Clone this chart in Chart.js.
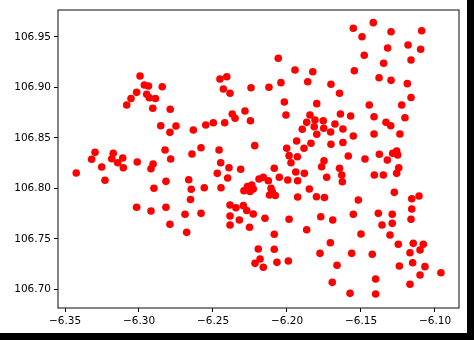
<!DOCTYPE html>
<html>
<head>
<meta charset="utf-8">
<script src="https://cdn.jsdelivr.net/npm/chart.js@4.4.1/dist/chart.umd.min.js"></script>
<style>
  html, body { margin: 0; padding: 0; background: #fff; }
  canvas { display: block; }
</style>
</head>
<body>
<canvas id="scatter" width="474" height="340"></canvas>
<script>
"use strict";

// x positions (latitude)
const latitude = [
    -6.2993, -6.2964, -6.2936, -6.3016, -6.2948, -6.3054, -6.2930, -6.2889, -6.3083, -6.2843,
    -6.2453, -6.2407, -6.2430, -6.2385, -6.2243, -6.2059, -6.1946, -6.1826, -6.2122, -6.2041,
    -6.1860, -6.1703, -6.1645, -6.2018, -6.1799, -6.1417, -6.1552, -6.1493, -6.1297, -6.1090,
    -6.1320, -6.1182, -6.1097, -6.1478, -6.1347, -6.1162, -6.1545, -6.1378, -6.1297, -6.1187,
    -6.1162, -6.1444, -6.1225, -6.2907, -6.3297, -6.3320, -6.3174, -6.3184, -6.3110, -6.3144,
    -6.3252, -6.3106, -6.3012, -6.3424, -6.3230, -6.2905, -6.2919, -6.2899, -6.2789, -6.2853,
    -6.2750, -6.2791, -6.2633, -6.2549, -6.2498, -6.2421, -6.2370, -6.2351, -6.2284, -6.2247,
    -6.2824, -6.2786, -6.2642, -6.2581, -6.2459, -6.2448, -6.2392, -6.2471, -6.2313, -6.2401,
    -6.2818, -6.2664, -6.2647, -6.2559, -6.2446, -6.2652, -6.2291, -6.2267, -6.2007, -6.1845,
    -6.1867, -6.1811, -6.1755, -6.1639, -6.1816, -6.1752, -6.1897, -6.1676, -6.1622, -6.1799,
    -6.1705, -6.1935, -6.1838, -6.2218, -6.2002, -6.1885, -6.1703, -6.1622, -6.1986, -6.1930,
    -6.1973, -6.1750, -6.1766, -6.1645, -6.2086, -6.1941, -6.1883, -6.1732, -6.1630, -6.1626,
    -6.2052, -6.1995, -6.1928, -6.2189, -6.2160, -6.2126, -6.2238, -6.2228, -6.2250, -6.2108,
    -6.2099, -6.2079, -6.2118, -6.1849, -6.1928, -6.1801, -6.1747, -6.1570, -6.1412, -6.1203,
    -6.1331, -6.1299, -6.1552, -6.1412, -6.1237, -6.1586, -6.1473, -6.1376, -6.1286, -6.1259,
    -6.1252, -6.1322, -6.1245, -6.1259, -6.1410, -6.1349, -6.1275, -6.1108, -6.1157, -6.1518,
    -6.3016, -6.2919, -6.2818, -6.2689, -6.2581, -6.2791, -6.2678, -6.2385, -6.2345, -6.2295,
    -6.2272, -6.2385, -6.2322, -6.2385, -6.2253, -6.2228, -6.2149, -6.1986, -6.1772, -6.1691,
    -6.1867, -6.2086, -6.1707, -6.2194, -6.2086, -6.1777, -6.2182, -6.2216, -6.2160, -6.2068,
    -6.1991, -6.1662, -6.1694, -6.1552, -6.1383, -6.1289, -6.1157, -6.1358, -6.1289, -6.1162,
    -6.1500, -6.1304, -6.1248, -6.1147, -6.1079, -6.1169, -6.1101, -6.1563, -6.1424, -6.1241,
    -6.1151, -6.1068, -6.1101, -6.0960, -6.1169, -6.1401, -6.1574, -6.1401
];

// y positions (longitude)
const longitude = [
    106.9114, 106.9025, 106.9015, 106.8952, 106.8933, 106.8891, 106.8899, 106.8891, 106.8827, 106.9008,
    106.9084, 106.9107, 106.8985, 106.8943, 106.8998, 106.9289, 106.9173, 106.9156, 106.9002, 106.9048,
    106.9057, 106.9032, 106.8943, 106.8856, 106.8840, 106.9642, 106.9586, 106.9503, 106.9552, 106.9562,
    106.9391, 106.9421, 106.9378, 106.9319, 106.9240, 106.9272, 106.9166, 106.9097, 106.9071, 106.9038,
    106.8901, 106.8827, 106.8827, 106.8794, 106.8358, 106.8289, 106.8349, 106.8295, 106.8302, 106.8255,
    106.8213, 106.8206, 106.8262, 106.8153, 106.8081, 106.8243, 106.8196, 106.8002, 106.8784, 106.8622,
    106.8619, 106.8556, 106.8579, 106.8629, 106.8651, 106.8651, 106.8738, 106.8695, 106.8767, 106.8671,
    106.8381, 106.8292, 106.8342, 106.8404, 106.8381, 106.8255, 106.8206, 106.8150, 106.8190, 106.8104,
    106.8071, 106.8087, 106.7992, 106.8008, 106.8008, 106.7891, 106.7978, 106.8020, 106.8728, 106.8728,
    106.8655, 106.8678, 106.8671, 106.8738, 106.8612, 106.8596, 106.8586, 106.8639, 106.8589, 106.8537,
    106.8559, 106.8470, 106.8448, 106.8424, 106.8398, 106.8398, 106.8438, 106.8455, 106.8325, 106.8315,
    106.8255, 106.8275, 106.8216, 106.8200, 106.8200, 106.8163, 106.8150, 106.8111, 106.8134, 106.8067,
    106.8111, 106.8084, 106.8077, 106.8094, 106.8111, 106.8077, 106.8035, 106.7995, 106.7970, 106.8002,
    106.7968, 106.7931, 106.7936, 106.7995, 106.7916, 106.7919, 106.7911, 106.8718, 106.8711, 106.8701,
    106.8655, 106.8622, 106.8520, 106.8540, 106.8540, 106.8322, 106.8292, 106.8339, 106.8349, 106.8371,
    106.8332, 106.8282, 106.8206, 106.8150, 106.8134, 106.8134, 106.7962, 106.7926, 106.7899, 106.7886,
    106.7814, 106.7777, 106.7814, 106.7745, 106.7754, 106.7646, 106.7566, 106.7837, 106.7810, 106.7830,
    106.7782, 106.7728, 106.7688, 106.7639, 106.7616, 106.7748, 106.7705, 106.7695, 106.7721, 106.7688,
    106.7592, 106.7547, 106.7463, 106.7401, 106.7398, 106.7358, 106.7302, 106.7259, 106.7220, 106.7269,
    106.7282, 106.7240, 106.7071, 106.7745, 106.7754, 106.7745, 106.7797, 106.7639, 106.7655, 106.7695,
    106.7550, 106.7540, 106.7448, 106.7457, 106.7448, 106.7364, 106.7391, 106.7358, 106.7349, 106.7233,
    106.7265, 106.7226, 106.7144, 106.7166, 106.7052, 106.7104, 106.6962, 106.6955
];

const xTicks = [-6.35, -6.30, -6.25, -6.20, -6.15, -6.10];
const yTicks = [106.70, 106.75, 106.80, 106.85, 106.90, 106.95];

const points = latitude.map((x, i) => ({x: x, y: longitude[i]}));

// white photo with a dark shadow band along right and bottom, plus plot frame
const framePlugin = {
    id: "frame",
    beforeDraw: chart =>
    {
        const c = chart.ctx;
        c.save();
        c.fillStyle = "#000";
        c.fillRect(0, 0, chart.width, chart.height);
        c.fillStyle = "#fff";
        c.fillRect(0, 0, 467, 333);
        c.restore();
    },
    afterDraw: chart =>
    {
        const a = chart.chartArea;
        const c = chart.ctx;
        c.save();
        c.strokeStyle = "#333";
        c.lineWidth = 1.2;
        c.strokeRect(a.left, a.top, a.right - a.left, a.bottom - a.top);
        c.restore();
    }
};

const fmt = v => (v < 0 ? "\u2212" : "") + Math.abs(v).toFixed(2);

new Chart(document.getElementById("scatter").getContext("2d"), {
    type:    "scatter",
    data:    {
        datasets: [
            {
                data:            points,
                backgroundColor: "#ff0000",
                borderWidth:     0,
                pointRadius:     3.8,
                pointHoverRadius: 3.8
            }
        ]
    },
    options: {
        responsive: false,
        animation:  false,
        events:     [],
        layout:     {
            padding: {left: 0, top: 10, right: 15, bottom: 0}
        },
        scales:     {
            x: {
                type:            "linear",
                min:             -6.35473,
                max:             -6.08378,
                afterBuildTicks: axis => { axis.ticks = xTicks.map(v => ({value: v})); },
                afterFit:        axis => { axis.height = 32; },
                grid:            {drawOnChartArea: false, drawTicks: true, tickLength: 4, color: "#000"},
                border:          {display: false},
                ticks:           {
                    callback: v => fmt(v),
                    color:    "#000",
                    padding:  3,
                    maxRotation: 0,
                    autoSkip: false,
                    font:     {family: "DejaVu Sans", size: 10.5}
                }
            },
            y: {
                type:            "linear",
                min:             106.68168,
                max:             106.97673,
                afterBuildTicks: axis => { axis.ticks = yTicks.map(v => ({value: v})); },
                afterFit:        axis => { axis.width = 58; },
                grid:            {drawOnChartArea: false, drawTicks: true, tickLength: 4, color: "#000"},
                border:          {display: false},
                ticks:           {
                    callback: v => fmt(v),
                    color:    "#000",
                    padding:  3,
                    autoSkip: false,
                    font:     {family: "DejaVu Sans", size: 10.5}
                }
            }
        },
        plugins:    {
            legend:  {display: false},
            tooltip: {enabled: false}
        }
    },
    plugins: [framePlugin]
});
</script>
</body>
</html>
